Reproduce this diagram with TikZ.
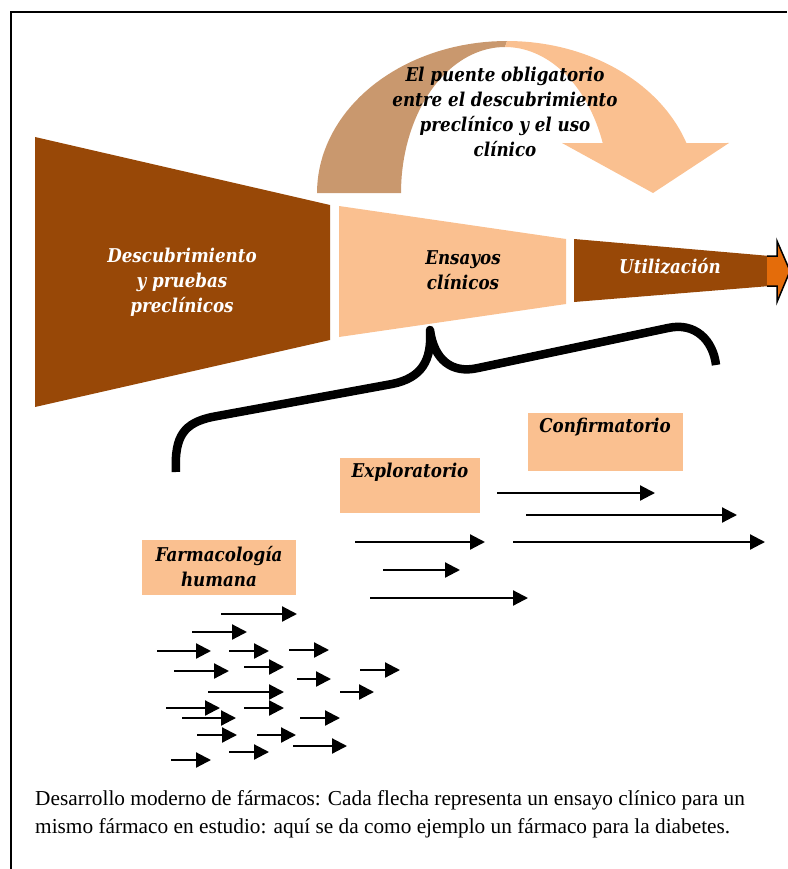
\documentclass[tikz,border=0pt]{standalone}
\usepackage{fontspec}
\setmainfont{Liberation Serif}
\newfontfamily\labfont{DejaVu Serif}[FakeStretch=0.88]
\usetikzlibrary{arrows.meta}
\definecolor{darkbrown}{HTML}{984807}
\definecolor{peach}{HTML}{FAC090}
\definecolor{tanshade}{HTML}{C9986E}
\definecolor{deeporange}{HTML}{E46C0A}

\begin{document}
\begin{tikzpicture}[x=1pt,y=-1pt,
  lab/.style={font=\labfont\bfseries\itshape\fontsize{19}{25}\selectfont, align=center, inner sep=0pt},
  whitelab/.style={lab, text=white},
  trial/.style={line width=2.2pt, -{Triangle[length=15pt,width=15pt]}},
  pbox/.style={fill=peach, inner sep=0pt, anchor=north west},
  caption/.style={font=\fontsize{21.3}{28}\selectfont, align=left, anchor=north west, inner sep=0pt}
]
\useasboundingbox (0,0) rectangle (787,869);

% frame lines
\draw[line width=2pt] (11,869) -- (11,12) -- (787,12);

% curved bridge arrow: dark back half and light front half
\fill[tanshade] plot[domain=180:90, samples=40] ({507+190*cos(\x)},{193-152*sin(\x)})
  -- plot[domain=90:180, samples=40] ({505+104*cos(\x)},{193-146*sin(\x)}) -- cycle;
\fill[peach] plot[domain=90:19.2, samples=40] ({507+190*cos(\x)},{193-152*sin(\x)})
  -- (729,143) -- (653,193) -- (562,143)
  -- plot[domain=20:90, samples=40] ({505+104*cos(\x)},{193-146*sin(\x)}) -- cycle;
\node[lab] (bridge) at (505,112) {El puente obligatorio\\entre el descubrimiento\\preclínico y el uso\\clínico};

% funnel of the three stages
\fill[darkbrown] (35,137) -- (330,205) -- (330,340) -- (35,407) -- cycle;
\node[whitelab] (disc) at (182,282) {Descubrimiento\\y pruebas\\preclínicos};

\fill[peach] (339,206) -- (566,239) -- (566,304) -- (339,337) -- cycle;
\node[lab] (trials) at (463,270) {Ensayos\\clínicos};

\fill[darkbrown] (574,239) -- (770,256) -- (770,286) -- (574,302) -- cycle;
\fill[deeporange] (767,256) -- (777,256) -- (777,241) -- (790,271) -- (777,302) -- (777,286) -- (767,286) -- cycle;
\draw[line width=1.5pt, line join=miter] (767,256) -- (777,256) -- (777,241) -- (790,271) -- (777,302) -- (777,286) -- (767,286);
\node[whitelab] (use) at (670,266) {Utilización};

% brace grouping the clinical phases
\draw[line width=8.5pt, line join=round]
  (176,472) .. controls (174,435) and (185,423) .. (212,417)
  -- (392,384) .. controls (422,378) and (432,360) .. (430,330)
  .. controls (434,360) and (452,374) .. (478,368)
  -- (668,328) .. controls (695,322) and (713,340) .. (716,365);

% phase boxes
\node[pbox, minimum width=155pt, minimum height=58pt] (confbox) at (528,413) {};
\node[lab] (conf) at (605,427) {Confirmatorio};
\node[pbox, minimum width=140pt, minimum height=55pt] (explbox) at (340,458) {};
\node[lab] (expl) at (410,472) {Exploratorio};
\node[pbox, minimum width=154pt, minimum height=55pt] (farmbox) at (142,540) {};
\node[lab] (farm) at (219,567) {Farmacología\\humana};

% individual trials
\foreach \xa/\xb/\yy in {497/655/493, 526/737/515, 355/485/542, 513/765/542, 383/460/570, 370/528/598}
  \draw[trial] (\xa,\yy) -- (\xb,\yy);
\foreach \xa/\xb/\yy in {
  221/297/614, 192/247/632, 157/211/651, 229/269/651, 289/329/650,
  174/229/671, 244/284/667, 297/331/679, 360/400/670, 208/284/692,
  340/374/692, 166/220/708, 244/284/708, 182/236/718, 300/340/718,
  197/237/735, 257/296/735, 293/347/746, 229/269/752, 171/211/760}
  \draw[trial] (\xa,\yy) -- (\xb,\yy);

% caption
\node[caption] (cap) at (35,790) {Desarrollo moderno de fármacos: Cada flecha representa un ensayo clínico para un\\mismo fármaco en estudio: aquí se da como ejemplo un fármaco para la diabetes.};
\end{tikzpicture}
\end{document}
